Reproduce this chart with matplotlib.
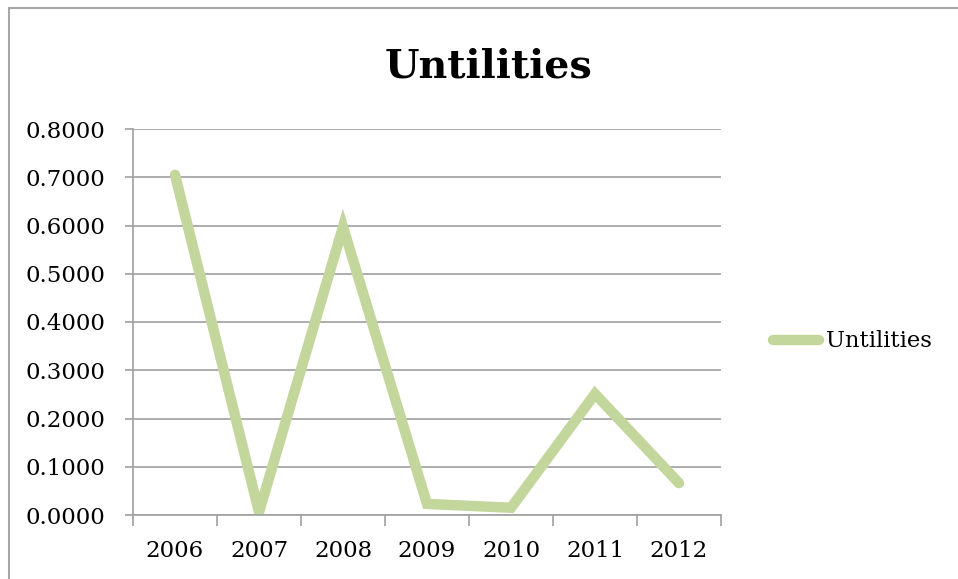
import matplotlib
matplotlib.use("Agg")
import matplotlib.pyplot as plt
from matplotlib.lines import Line2D
from matplotlib.patches import Rectangle

years = ["2006", "2007", "2008", "2009", "2010", "2011", "2012"]
values = [0.705, 0.006, 0.597, 0.023, 0.015, 0.251, 0.066]
series_name = "Untilities"
yticks = [0.0, 0.1, 0.2, 0.3, 0.4, 0.5, 0.6, 0.7, 0.8]

plt.rcParams['font.family'] = ['DejaVu Serif']
W, H = 958, 579
fig = plt.figure(figsize=(W / 100, H / 100), dpi=100)

# outer chart border (only top/left visible)
fig.patches.append(Rectangle((8.5 / W, -0.1), 2.0, (H - 7.5) / H + 0.1,
                             transform=fig.transFigure, fill=False,
                             edgecolor='#a6a6a6', linewidth=1.5))

x0, x1, ytop, ybot = 133, 721, 129, 515
ax = fig.add_axes([x0 / W, 1 - ybot / H, (x1 - x0) / W, (ybot - ytop) / H])
xs = list(range(len(years)))
line_color = '#c3d69b'
ax.plot(xs, values, color=line_color, linewidth=7.5, solid_capstyle='round',
        solid_joinstyle='miter')
ax.set_xlim(-0.5, len(years) - 0.5)
ax.set_ylim(0, 0.8)
ax.set_yticks(yticks)
ax.set_yticklabels([f"{v:.4f}" for v in yticks])
ax.set_xticks(xs)
ax.set_xticklabels(years)
ax.set_xticks([i - 0.5 for i in range(len(years) + 1)], minor=True)
ax.tick_params(axis='x', which='major', length=0, pad=18, labelsize=16.5)
ax.tick_params(axis='x', which='minor', length=8, width=1.2, color='#a0a0a0')
ax.tick_params(axis='y', length=6, width=1.2, color='#a0a0a0', pad=14, labelsize=16.5)
ax.yaxis.grid(True, color='#a0a0a0', linewidth=1.2)
ax.set_axisbelow(True)
for s in ['top', 'right']:
    ax.spines[s].set_visible(False)
for s in ['left', 'bottom']:
    ax.spines[s].set_color('#a0a0a0')
    ax.spines[s].set_linewidth(1.2)

fig.text(488 / W, 1 - 66 / H, series_name, ha='center', va='center',
         fontsize=28.5, fontweight='bold')

# legend
fig.add_artist(Line2D([773 / W, 819 / W], [1 - 340 / H, 1 - 340 / H],
                      transform=fig.transFigure, color=line_color,
                      linewidth=7.5, solid_capstyle='round'))
fig.text(826 / W, 1 - 341 / H, series_name, ha='left', va='center', fontsize=16.3)

fig.savefig("out.png", dpi=100)
